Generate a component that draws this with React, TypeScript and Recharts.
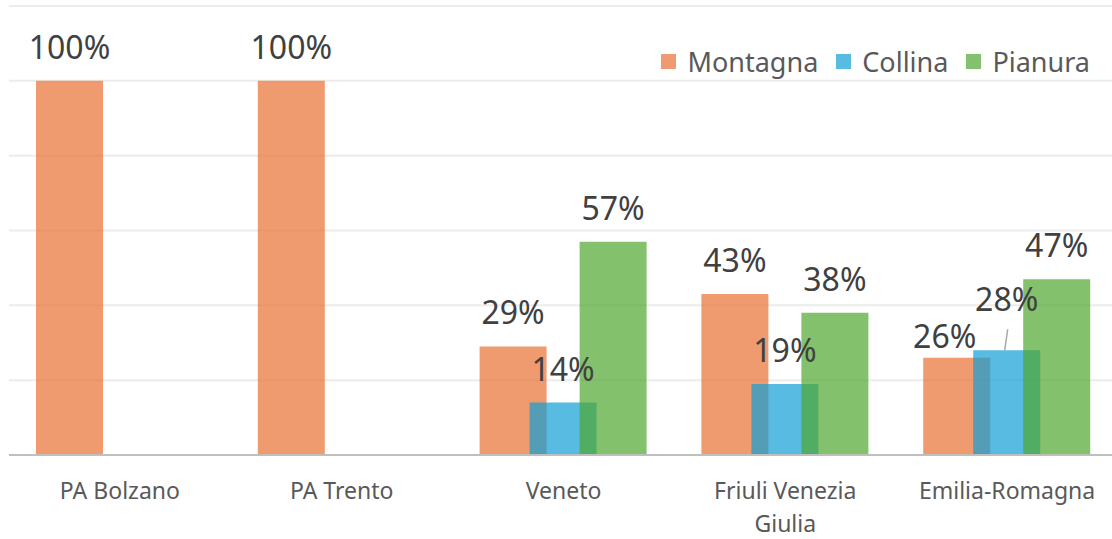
import React from "react";
import { Bar, BarChart, CartesianGrid, LabelList, XAxis, YAxis } from "recharts";

const categories = ["PA Bolzano", "PA Trento", "Veneto", "Friuli Venezia Giulia", "Emilia-Romagna"];
const montagna = [1, 1, 0.29, 0.43, 0.26];
const collina = [null, null, 0.14, 0.19, 0.28];
const pianura = [null, null, 0.57, 0.38, 0.47];
const yTicks = [0, 0.2, 0.4, 0.6, 0.8, 1, 1.2];

const series = [
    { key: "Montagna", color: "#E97132", values: montagna },
    { key: "Collina", color: "#0F9ED5", values: collina },
    { key: "Pianura", color: "#4EA72E", values: pianura },
];

const data = categories.map((name, i) => ({
    name,
    Montagna: montagna[i],
    Collina: collina[i],
    Pianura: pianura[i],
}));

const FONT = "'Noto Sans', 'Open Sans', sans-serif";

const pct = (v: any) => (v == null ? "" : `${Math.round(v * 100)}%`);

// montagna and collina labels collide when the two values are close
const crowded = (i: number) =>
    montagna[i] != null && collina[i] != null && Math.abs((montagna[i] as number) - (collina[i] as number)) < 0.05;

function ValueLabel({ x, y, width, value, seriesKey, values }: any) {
    const i = categories.indexOf(value);
    const v = values[i];
    if (v == null) return null;
    let cx = x + width / 2;
    let by = y - 22;
    let leader = false;
    if (crowded(i)) {
        if (seriesKey === "Montagna") {
            cx -= 12;
            by = y - 10;
        } else if (seriesKey === "Collina") {
            by = y - 39;
            leader = true;
        }
    }
    return (
        <g>
            {leader && <line x1={cx + 1} y1={by + 18} x2={cx - 2} y2={y} stroke="#a6a6a6" strokeWidth={1.5} />}
            <text x={cx} y={by} textAnchor="middle" fill="#404040" fontSize={32} fontFamily={FONT}>
                {pct(v)}
            </text>
        </g>
    );
}

// simple word wrap by character count
function wrap(label: string, max = 16) {
    const lines: string[] = [];
    let cur = "";
    label.split(" ").forEach((w) => {
        if (cur && (cur + " " + w).length > max) {
            lines.push(cur);
            cur = w;
        } else {
            cur = cur ? cur + " " + w : w;
        }
    });
    if (cur) lines.push(cur);
    return lines;
}

function CategoryTick({ x, y, payload }: any) {
    const lines = wrap(payload.value);
    return (
        <text x={x} y={y} textAnchor="middle" fill="#595959" fontSize={23} fontFamily={FONT}>
            {lines.map((l, k) => (
                <tspan key={k} x={x} dy={k === 0 ? 36 : 33}>
                    {l}
                </tspan>
            ))}
        </text>
    );
}

function LegendBox() {
    return (
        <div
            style={{
                position: "absolute",
                top: 43,
                right: 22,
                display: "flex",
                alignItems: "center",
                fontFamily: FONT,
                fontSize: 27,
                color: "#595959",
            }}
        >
            {series.map((s) => (
                <div key={s.key} style={{ display: "flex", alignItems: "center", marginLeft: 18 }}>
                    <span
                        style={{
                            display: "inline-block",
                            width: 15,
                            height: 15,
                            background: s.color,
                            opacity: 0.7,
                            marginRight: 11,
                        }}
                    />
                    <span>{s.key}</span>
                </div>
            ))}
        </div>
    );
}

export default function App() {
    return (
        <div style={{ position: "relative", width: 1112, height: 539, background: "#fff", overflow: "hidden" }}>
            <style>{`body{margin:0}`}</style>
            <BarChart
                width={1112}
                height={539}
                data={data}
                margin={{ top: 6, right: -6, left: 9, bottom: 0 }}
                barSize={67}
                barGap={-17}
                barCategoryGap={0}
            >
                <CartesianGrid vertical={false} stroke="#ececec" strokeWidth={2} />
                <YAxis hide domain={[0, 1.2]} ticks={yTicks} />
                <XAxis
                    dataKey="name"
                    height={84}
                    axisLine={{ stroke: "#bfbfbf", strokeWidth: 2 }}
                    tickLine={false}
                    tick={<CategoryTick />}
                    interval={0}
                />
                {series.map((s) => (
                    <Bar key={s.key} dataKey={s.key} fill={s.color} fillOpacity={0.7} isAnimationActive={false}>
                        <LabelList
                            dataKey="name"
                            content={(p: any) => <ValueLabel {...p} seriesKey={s.key} values={s.values} />}
                        />
                    </Bar>
                ))}
            </BarChart>
            <LegendBox />
        </div>
    );
}
